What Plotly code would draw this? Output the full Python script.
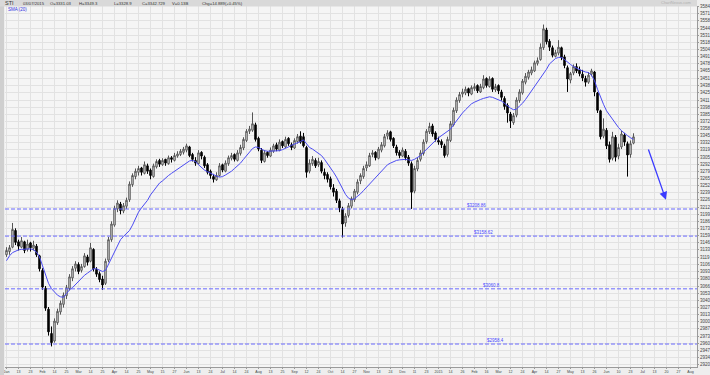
import plotly.graph_objects as go

# ---------------- data ----------------
opens = [3124, 3130, 3138, 3169, 3148, 3138, 3148, 3134, 3146, 3136,
         3140, 3122, 3095, 3062, 3023, 2978, 2964, 2998, 3018, 3032,
         3048, 3061, 3081, 3099, 3106, 3095, 3102, 3120, 3112, 3134,
         3097, 3089, 3079, 3071, 3114, 3152, 3179, 3209, 3218, 3205,
         3214, 3226, 3254, 3269, 3277, 3285, 3275, 3289, 3281, 3269,
         3287, 3299, 3291, 3301, 3293, 3304, 3299, 3307, 3310, 3314,
         3318, 3324, 3310, 3299, 3293, 3314, 3305, 3291, 3279, 3269,
         3263, 3271, 3291, 3279, 3293, 3303, 3310, 3299, 3312, 3322,
         3336, 3353, 3355, 3365, 3340, 3318, 3297, 3314, 3307, 3316,
         3328, 3318, 3334, 3324, 3340, 3328, 3322, 3334, 3344, 3343,
         3323, 3279, 3293, 3299, 3291, 3295, 3277, 3273, 3265, 3248,
         3242, 3224, 3209, 3183, 3197, 3214, 3226, 3240, 3261, 3269,
         3285, 3289, 3310, 3314, 3303, 3318, 3326, 3344, 3352, 3340,
         3324, 3314, 3307, 3316, 3305, 3293, 3242, 3283, 3301, 3312,
         3334, 3352, 3363, 3350, 3336, 3334, 3326, 3310, 3336, 3365,
         3391, 3410, 3422, 3424, 3432, 3422, 3432, 3438, 3426, 3434,
         3451, 3436, 3451, 3430, 3438, 3426, 3414, 3401, 3385, 3369,
         3383, 3410, 3424, 3444, 3453, 3461, 3465, 3479, 3486, 3508,
         3541, 3520, 3508, 3492, 3498, 3508, 3491, 3471, 3448, 3461,
         3473, 3467, 3459, 3451, 3444, 3459, 3463, 3424, 3391, 3344,
         3355, 3328, 3303, 3342, 3307, 3324, 3346, 3330, 3310, 3331.03]

highs = [3138, 3142, 3183, 3173, 3152, 3157, 3150, 3152, 3148, 3150,
         3144, 3124, 3099, 3066, 3027, 2991, 3006, 3024, 3039, 3054,
         3068, 3088, 3103, 3112, 3110, 3107, 3127, 3124, 3146, 3136,
         3101, 3093, 3085, 3117, 3157, 3186, 3215, 3225, 3222, 3220,
         3230, 3260, 3275, 3284, 3289, 3287, 3297, 3293, 3284, 3293,
         3301, 3302, 3303, 3302, 3308, 3307, 3313, 3316, 3320, 3324,
         3330, 3326, 3313, 3305, 3318, 3316, 3308, 3294, 3282, 3274,
         3277, 3294, 3293, 3299, 3308, 3313, 3312, 3318, 3328, 3342,
         3357, 3363, 3388, 3369, 3343, 3322, 3318, 3316, 3323, 3330,
         3332, 3338, 3336, 3343, 3342, 3332, 3340, 3348, 3353, 3350,
         3326, 3301, 3307, 3303, 3304, 3299, 3284, 3277, 3269, 3255,
         3246, 3228, 3213, 3201, 3220, 3232, 3246, 3264, 3275, 3289,
         3297, 3313, 3318, 3316, 3324, 3333, 3348, 3355, 3354, 3342,
         3328, 3318, 3323, 3320, 3309, 3297, 3289, 3304, 3318, 3338,
         3357, 3369, 3367, 3353, 3343, 3338, 3330, 3343, 3372, 3397,
         3416, 3426, 3432, 3436, 3434, 3438, 3442, 3440, 3441, 3457,
         3453, 3455, 3453, 3441, 3440, 3430, 3418, 3405, 3389, 3387,
         3416, 3431, 3450, 3461, 3467, 3473, 3484, 3490, 3516, 3551,
         3545, 3524, 3512, 3504, 3522, 3510, 3495, 3475, 3463, 3477,
         3479, 3473, 3467, 3456, 3463, 3469, 3465, 3426, 3393, 3377,
         3359, 3334, 3352, 3346, 3330, 3354, 3350, 3334, 3336, 3349.3]

lows = [3120, 3124, 3136, 3142, 3132, 3136, 3127, 3130, 3130, 3132,
        3120, 3093, 3059, 3020, 2974, 2954, 2961, 2994, 3013, 3026,
        3042, 3058, 3075, 3093, 3088, 3091, 3100, 3104, 3110, 3093,
        3083, 3073, 3059, 3068, 3110, 3148, 3176, 3203, 3199, 3201,
        3209, 3222, 3250, 3264, 3271, 3271, 3273, 3274, 3264, 3267,
        3284, 3287, 3289, 3289, 3291, 3295, 3297, 3304, 3307, 3310,
        3314, 3305, 3297, 3289, 3291, 3301, 3285, 3273, 3265, 3258,
        3261, 3269, 3277, 3277, 3289, 3299, 3297, 3297, 3308, 3318,
        3333, 3348, 3352, 3334, 3316, 3294, 3295, 3304, 3305, 3313,
        3316, 3316, 3322, 3322, 3326, 3318, 3320, 3330, 3330, 3323,
        3267, 3275, 3289, 3285, 3287, 3275, 3264, 3258, 3245, 3232,
        3220, 3203, 3156, 3176, 3193, 3210, 3222, 3236, 3255, 3265,
        3279, 3287, 3305, 3299, 3301, 3314, 3323, 3338, 3334, 3322,
        3308, 3303, 3305, 3299, 3289, 3209, 3238, 3279, 3297, 3308,
        3330, 3348, 3343, 3334, 3328, 3322, 3304, 3306, 3333, 3362,
        3387, 3406, 3416, 3420, 3418, 3420, 3428, 3424, 3424, 3431,
        3434, 3434, 3426, 3426, 3422, 3410, 3393, 3369, 3359, 3365,
        3379, 3406, 3421, 3440, 3449, 3457, 3463, 3475, 3484, 3504,
        3514, 3502, 3490, 3490, 3494, 3485, 3470, 3426, 3442, 3457,
        3461, 3455, 3446, 3436, 3441, 3455, 3418, 3387, 3338, 3340,
        3320, 3295, 3299, 3297, 3301, 3320, 3326, 3269, 3304, 3328.9]

closes = [3132, 3137, 3171, 3147, 3140, 3150, 3132, 3144, 3137, 3142,
          3124, 3098, 3064, 3025, 2981, 2961, 3001, 3019, 3034, 3049,
          3063, 3083, 3098, 3107, 3093, 3102, 3122, 3110, 3137, 3098,
          3088, 3078, 3068, 3112, 3152, 3181, 3210, 3220, 3206, 3215,
          3225, 3255, 3271, 3279, 3284, 3277, 3291, 3279, 3271, 3289,
          3297, 3292, 3299, 3294, 3304, 3301, 3308, 3311, 3316, 3320,
          3326, 3308, 3301, 3294, 3313, 3307, 3289, 3277, 3271, 3264,
          3271, 3289, 3281, 3294, 3304, 3308, 3301, 3313, 3323, 3338,
          3353, 3357, 3367, 3338, 3320, 3299, 3313, 3308, 3318, 3326,
          3320, 3333, 3326, 3338, 3330, 3323, 3336, 3343, 3333, 3326,
          3277, 3294, 3301, 3289, 3297, 3279, 3271, 3264, 3250, 3240,
          3225, 3211, 3181, 3196, 3215, 3228, 3242, 3259, 3271, 3284,
          3291, 3308, 3313, 3304, 3320, 3328, 3343, 3350, 3338, 3326,
          3313, 3308, 3318, 3304, 3294, 3240, 3284, 3299, 3313, 3333,
          3353, 3362, 3348, 3338, 3333, 3328, 3308, 3338, 3367, 3392,
          3411, 3421, 3426, 3431, 3424, 3434, 3436, 3428, 3436, 3450,
          3438, 3450, 3431, 3436, 3428, 3416, 3399, 3387, 3372, 3382,
          3411, 3426, 3446, 3455, 3463, 3467, 3480, 3484, 3509, 3543,
          3519, 3509, 3494, 3499, 3509, 3490, 3475, 3450, 3460, 3473,
          3465, 3460, 3452, 3444, 3457, 3465, 3426, 3392, 3343, 3357,
          3326, 3301, 3343, 3305, 3323, 3348, 3333, 3309, 3330, 3342.729]

sma20 = [3113, 3122, 3128, 3131, 3133, 3134, 3134, 3134, 3135, 3133,
         3129, 3120, 3105, 3088, 3071, 3061, 3054, 3049, 3046, 3045,
         3052, 3059, 3063, 3069, 3075, 3081, 3086, 3090, 3094, 3098,
         3098, 3096, 3093, 3095, 3107, 3118, 3130, 3142, 3152, 3158,
         3163, 3169, 3179, 3191, 3203, 3211, 3218, 3225, 3235, 3243,
         3250, 3257, 3261, 3267, 3271, 3275, 3279, 3283, 3287, 3291,
         3295, 3298, 3299, 3297, 3291, 3285, 3281, 3278, 3275, 3272,
         3270, 3268, 3269, 3272, 3275, 3279, 3284, 3289, 3294, 3301,
         3308, 3316, 3321, 3324, 3323, 3320, 3317, 3316, 3316, 3316,
         3316, 3317, 3319, 3321, 3324, 3327, 3329, 3331, 3334, 3337,
         3330, 3323, 3320, 3316, 3313, 3308, 3301, 3293, 3287, 3277,
         3268, 3258, 3246, 3236, 3229, 3226, 3228, 3232, 3237, 3243,
         3249, 3255, 3261, 3268, 3274, 3280, 3286, 3291, 3294, 3297,
         3299, 3300, 3301, 3301, 3300, 3299, 3301, 3304, 3308, 3314,
         3320, 3326, 3331, 3336, 3341, 3345, 3348, 3352, 3357, 3365,
         3373, 3381, 3387, 3393, 3399, 3404, 3407, 3410, 3412, 3414,
         3416, 3417, 3416, 3414, 3412, 3409, 3405, 3400, 3396, 3393,
         3394, 3400, 3405, 3412, 3420, 3427, 3434, 3442, 3451, 3458,
         3468, 3478, 3484, 3488, 3490, 3490, 3486, 3481, 3477, 3473,
         3470, 3467, 3465, 3463, 3462, 3457, 3447, 3431, 3416, 3403,
         3391, 3383, 3375, 3368, 3360, 3354, 3349, 3345, 3341, 3338]

levels = [3208.86, 3158.62, 3060.8, 2958.4]
level_labels = ["$3208.86", "$3158.62", "$3060.8", "$2958.4"]

y_tick_labels = ["2920", "2934", "2947", "2960", "2973", "2987", "3000", "3013", "3027",
                 "3040", "3053", "3066", "3080", "3093", "3106", "3119", "3133", "3146",
                 "3159", "3173", "3186", "3199", "3212", "3226", "3239", "3252", "3265",
                 "3279", "3292", "3305", "3319", "3332", "3345", "3358", "3372", "3385",
                 "3398", "3411", "3425", "3438", "3451", "3465", "3478", "3491", "3504",
                 "3518", "3531", "3544", "3558", "3571", "3584"]

x_tick_labels = ["Jan", "13", "23", "Feb", "14", "25", "Mar", "14", "25", "Apr", "14", "25",
                 "May", "15", "27", "Jun", "13", "24", "Jul", "14", "24", "Aug", "13", "25",
                 "Sep", "12", "24", "Oct", "14", "27", "Nov", "13", "24", "Dec", "11", "23",
                 "2015", "14", "26", "Feb", "16", "Mar", "12", "24", "Apr", "14", "27",
                 "May", "13", "26", "Jun", "10", "23", "Jul", "13", "20", "27", "Aug"]

header_items = ["STI", "03/07/2015", "O=3331.03", "H=3349.3", "L=3328.9",
                "C=3342.729", "V=0.13B", "Chg=14.889(+0.45%)"]

arrow_tail = (213.8, 3322)
arrow_head = (219.8, 3226)

# ---------------- figure ----------------
W, H = 710, 375
ML, MR, MT, MB = 5, 13, 6, 8
PW = W - ML - MR
PH = H - MT - MB

n = len(closes)
xs = list(range(n))
x_range = [-0.5, -0.5 + PW / 3.0]
y_range = [2915.8, 3585.4]

fig = go.Figure()

fig.add_trace(go.Candlestick(
    x=xs, open=opens, high=highs, low=lows, close=closes,
    increasing=dict(line=dict(color="#555555", width=1), fillcolor="#f2f2f2"),
    decreasing=dict(line=dict(color="#000000", width=1), fillcolor="#000000"),
    whiskerwidth=0, showlegend=False, hoverinfo="skip",
))

fig.add_trace(go.Scatter(
    x=xs, y=sma20, mode="lines",
    line=dict(color="#4c4cf2", width=1), showlegend=False, hoverinfo="skip",
))

# horizontal support levels
for lv, lab, xpos in zip(levels, level_labels, [156.5, 159.0, 161.5, 163.0]):
    fig.add_shape(type="line", xref="paper", yref="y", x0=0, x1=1, y0=lv, y1=lv,
                  line=dict(color="#6a6aff", width=1, dash="4px,2px"))
    fig.add_annotation(x=xpos, y=lv, xref="x", yref="y", text=lab, showarrow=False,
                       yanchor="bottom", yshift=-1,
                       font=dict(family="Liberation Sans, Arial", size=4.5, color="#4848ff"))

# trend arrow
fig.add_annotation(x=arrow_head[0], y=arrow_head[1], ax=arrow_tail[0], ay=arrow_tail[1],
                   xref="x", yref="y", axref="x", ayref="y", text="",
                   showarrow=True, arrowhead=2, arrowsize=1.2, arrowwidth=1.3,
                   arrowcolor="#3b3bff")

def px_x(p):
    return (p - ML) / PW

def px_y(p):
    return 1 - (p - MT) / PH

# left strip and header bar
fig.add_shape(type="rect", xref="paper", yref="paper", x0=px_x(0), x1=px_x(4),
              y0=px_y(H), y1=px_y(0), fillcolor="#cfcfcf", line=dict(width=0), layer="above")
fig.add_shape(type="rect", xref="paper", yref="paper", x0=px_x(0), x1=px_x(W - MR),
              y0=px_y(6.5), y1=px_y(0), fillcolor="#d9d9d9", line=dict(width=0), layer="above")

header_x = [3, 21, 48, 77, 112, 140, 170, 200]
for txt, hx in zip(header_items, header_x):
    fig.add_annotation(x=px_x(hx), y=px_y(3.3), xref="paper", yref="paper", text=txt,
                       showarrow=False, xanchor="left", yanchor="middle",
                       font=dict(family="Liberation Sans, Arial", size=4.2 if txt != "STI" else 5.5,
                                 color="#333333"))

fig.add_annotation(x=px_x(693), y=px_y(2.6), xref="paper", yref="paper", text="ChartNexus.com",
                   showarrow=False, xanchor="right", yanchor="middle",
                   font=dict(family="Liberation Sans, Arial", size=4, color="#b0b0b0"))

fig.add_annotation(x=px_x(6), y=px_y(9.5), xref="paper", yref="paper", text="SMA (20)",
                   showarrow=False, xanchor="left", yanchor="middle",
                   font=dict(family="Liberation Sans, Arial", size=4.5, color="#3030e0"))

fig.update_layout(
    width=W, height=H,
    margin=dict(l=ML, r=MR, t=MT, b=MB, pad=0, autoexpand=False),
    paper_bgcolor="#eeeeee",
    plot_bgcolor="#f5f5f5",
    showlegend=False,
    xaxis=dict(
        range=x_range, rangeslider=dict(visible=False), automargin=False,
        tickmode="array",
        tickvals=[4 * i for i in range(len(x_tick_labels))],
        ticktext=x_tick_labels,
        tickfont=dict(family="Liberation Sans, Arial", size=3.6, color="#444444"),
        showgrid=True, gridcolor="#e2e2e2", gridwidth=1,
        showline=True, linecolor="#9a9a9a", linewidth=1,
        ticks="outside", ticklen=1, tickcolor="#9a9a9a",
        zeroline=False, fixedrange=True,
    ),
    yaxis=dict(
        range=y_range, side="right", automargin=False,
        tickmode="array",
        tickvals=[float(t) for t in y_tick_labels],
        ticktext=y_tick_labels,
        tickfont=dict(family="Liberation Sans, Arial", size=4.5, color="#444444"),
        showgrid=True, gridcolor="#e2e2e2", gridwidth=1,
        showline=True, linecolor="#9a9a9a", linewidth=1,
        ticks="outside", ticklen=1, tickcolor="#9a9a9a",
        zeroline=False, fixedrange=True,
    ),
)

fig.write_html("out.html")
